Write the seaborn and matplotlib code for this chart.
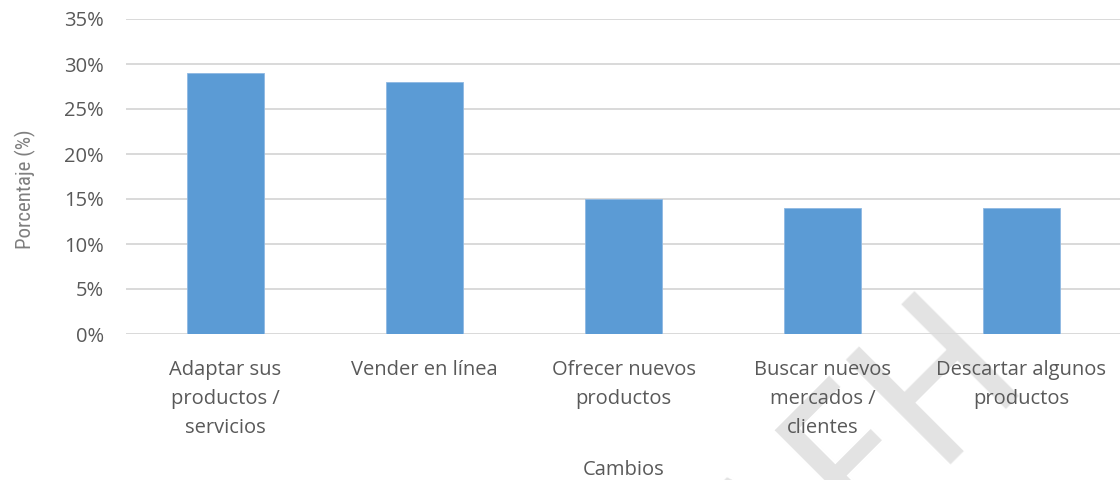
import matplotlib
matplotlib.use("Agg")
import matplotlib.pyplot as plt
from matplotlib import font_manager
import seaborn as sns
import pandas as pd
from matplotlib.ticker import FuncFormatter

# Data
categories = [
    "Adaptar sus\nproductos /\nservicios",
    "Vender en línea",
    "Ofrecer nuevos\nproductos",
    "Buscar nuevos\nmercados /\nclientes",
    "Descartar algunos\nproductos",
]
percentages = [0.29, 0.28, 0.15, 0.14, 0.14]
y_ticks = [0.0, 0.05, 0.10, 0.15, 0.20, 0.25, 0.30, 0.35]

df = pd.DataFrame({"Cambios": categories, "Porcentaje": percentages})


def first_available(*names):
    installed = {f.name for f in font_manager.fontManager.ttflist}
    for n in names:
        if n in installed:
            return n
    return "DejaVu Sans"


narrow_font = first_available("Liberation Sans Narrow", "DejaVu Sans Condensed",
                              "Roboto Condensed", "Open Sans Condensed")

sns.set_style("white")
plt.rcParams["font.family"] = ["Open Sans", "DejaVu Sans"]

text_color = "#595959"
grid_color = "#d9d9d9"
bar_color = "#5b9bd5"

fig = plt.figure(figsize=(11.2, 4.8), dpi=100)
ax = fig.add_axes([126 / 1120, 1 - 334 / 480, 995 / 1120, 315 / 480])
ax.patch.set_visible(False)

sns.barplot(data=df, x="Cambios", y="Porcentaje", color=bar_color,
            width=0.39, saturation=1, edgecolor="#8fb8e2", linewidth=0.6,
            ax=ax, zorder=3)

ax.set_xlim(-0.5, len(categories) - 0.5)
ax.set_ylim(0, 0.35)
ax.set_yticks(y_ticks)
ax.yaxis.set_major_formatter(FuncFormatter(lambda v, _: f"{round(v * 100):d}%"))
ax.grid(axis="y", color=grid_color, linewidth=1.4, zorder=0)
ax.grid(axis="x", visible=False)
for s in ax.spines.values():
    s.set_visible(False)

ax.tick_params(axis="y", length=0, pad=16, labelsize=14.5, labelcolor=text_color)
ax.tick_params(axis="x", length=0, pad=19, labelsize=14.5, labelcolor=text_color)
for lbl in ax.get_xticklabels():
    lbl.set_linespacing(1.6)
    lbl.set_multialignment("center")

ax.set_xlabel("Cambios", fontsize=14.5, color=text_color)
ax.xaxis.set_label_coords(0.5, -0.40)
ax.set_ylabel("Porcentaje (%)", fontsize=15, color="#7f7f7f",
              family=[narrow_font, "DejaVu Sans"])
ax.yaxis.set_label_coords(-0.09, 0.46)

# Light diagonal watermark, drawn beneath the chart
fig.text(1030 / 1120, 1 - 380 / 480, "AFH", fontsize=150, color="#e3e3e3",
         rotation=45, rotation_mode="anchor", ha="right", va="baseline",
         zorder=-1, family=[narrow_font, "DejaVu Sans"])

fig.savefig("out.png", dpi=100)
